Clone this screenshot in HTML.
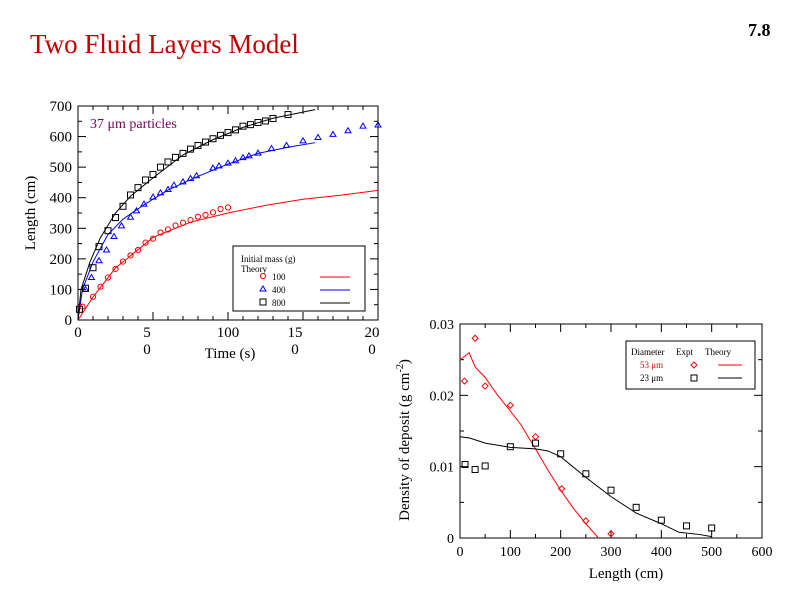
<!DOCTYPE html>
<html><head><meta charset="utf-8"><style>
body{margin:0;background:#fff;width:800px;height:600px;overflow:hidden}
svg{font-family:"Liberation Serif",serif}
</style></head><body>
<svg id="s" width="800" height="600">
<text x="30" y="53" font-size="27" fill="#c00000">Two Fluid Layers Model</text>
<text x="748" y="36" font-size="18" font-weight="bold">7.8</text>
<g id="c1"></g>
<g id="c2"></g>
</svg>
<script>
// Chart 1 data
const redT=[3,10,15,20,25,30,35,40,45,50,55,60,65,70,75,80,85,90,95,100];
const redL=[44,76,109,139,167,191,211,229,253,266,286,296,309,318,327,338,344,352,363,368];
const redThT=[0,10,25,50,75,100,125,150,175,200];
const redThL=[0,75,170,270,320,350,375,395,408,424];
const blueT=[5,9,14,19,24,29,35,39,44,50,55,60,64,70,75,79,90,94,100,105,110,114,120,129,139,150,160,170,180,190,200];
const blueL=[100,139,194,229,273,308,336,357,379,402,416,427,441,452,463,472,497,504,513,521,531,537,546,561,571,586,597,607,619,634,638];
const blueThT=[0,3,10,20,30,45,60,80,100,120,140,158];
const blueThL=[0,100,190,280,330,380,425,470,510,545,565,580];
const blackT=[1,5,10,14,20,25,30,35,40,45,50,55,60,65,70,75,80,85,90,95,100,105,110,115,120,125,130,140];
const blackL=[35,104,171,240,292,335,372,409,433,458,476,500,517,532,545,559,571,582,593,604,613,622,634,639,646,651,659,672];
const blackThT=[0,2,8,15,25,35,50,70,90,110,130,158];
const blackThL=[0,100,190,270,350,405,465,540,590,630,660,688];
const yTicks1=[0,100,200,300,400,500,600,700];
// Chart 2 data
const rX=[9,30,50,100,150,202,250,300];
const rD=[0.022,0.028,0.0213,0.0186,0.0142,0.0069,0.0024,0.0006];
const rThX=[0,10,18,30,50,75,100,120,150,175,200,225,250,275];
const rThD=[0.025,0.0255,0.026,0.024,0.0225,0.020,0.0178,0.016,0.0125,0.0095,0.0067,0.0042,0.002,0];
const kX=[10,30,50,100,150,200,250,300,350,400,450,500];
const kD=[0.0103,0.0096,0.0101,0.0128,0.0133,0.0118,0.009,0.0067,0.0043,0.0025,0.0017,0.0014];
const kThX=[0,20,50,100,150,175,200,250,300,350,400,435,475,500];
const kThD=[0.0142,0.014,0.0133,0.0127,0.0125,0.0122,0.0114,0.0085,0.0058,0.0035,0.002,0.0008,0.0005,0.0002];
const xTicks2=[0,100,200,300,400,500,600];
const yTicks2=[0,0.01,0.02,0.03];
const yLab2=["0","0.01","0.02","0.03"];

const NS="http://www.w3.org/2000/svg";
function mk(p,t,a){const e=document.createElementNS(NS,t);for(const k in a)e.setAttribute(k,a[k]);p.appendChild(e);return e;}
function marker(g,shape,cx,cy,col){
  if(shape==='circle')return mk(g,'circle',{cx,cy,r:2.6,fill:'none',stroke:col,'stroke-width':1});
  if(shape==='tri')return mk(g,'polygon',{points:`${cx},${cy-3} ${cx-3},${cy+2} ${cx+3},${cy+2}`,fill:'none',stroke:col,'stroke-width':1});
  if(shape==='sq')return mk(g,'rect',{x:cx-3,y:cy-3,width:6,height:6,fill:'none',stroke:col,'stroke-width':1});
  if(shape==='dia')return mk(g,'polygon',{points:`${cx},${cy-3} ${cx+3},${cy} ${cx},${cy+3} ${cx-3},${cy}`,fill:'none',stroke:col,'stroke-width':1});
}
// Chart 1
const c1=document.getElementById('c1');
const L1=78,R1=378,T1=106,B1=320;
const x1=t=>L1+t/200*(R1-L1), y1=v=>B1-v/700*(B1-T1);
const f1=mk(c1,'rect',{x:L1,y:T1,width:R1-L1,height:B1-T1,fill:'none',stroke:'#000'});


for(let t=0;t<=200;t+=10){const mj=t%50===0;const h=mj?8:4;
  mk(c1,'line',{x1:x1(t),x2:x1(t),y1:B1,y2:B1-h,stroke:'#000'});mk(c1,'line',{x1:x1(t),x2:x1(t),y1:T1,y2:T1+h,stroke:'#000'});}
for(let v=0;v<=700;v+=50){const mj=v%100===0;const h=mj?8:4;
  mk(c1,'line',{x1:L1,x2:L1+h,y1:y1(v),y2:y1(v),stroke:'#000'});mk(c1,'line',{x1:R1,x2:R1-h,y1:y1(v),y2:y1(v),stroke:'#000'});}
yTicks1.forEach(v=>{const e=mk(c1,'text',{x:L1-6,y:y1(v)+5,'font-size':15,'text-anchor':'end'});e.textContent=v;
  
  });
[[78,'0',''],[147,'5','0'],[228,'100',''],[295,'15','0'],[372,'20','0']].forEach(([px,a,b])=>{
  const e=mk(c1,'text',{x:px,y:337,'font-size':15,'text-anchor':'middle'});e.textContent=a;
  
  
  if(b){const f=mk(c1,'text',{x:px,y:354,'font-size':15,'text-anchor':'middle'});f.textContent=b;
  
  }});
let tt=mk(c1,'text',{x:230,y:358,'font-size':15,'text-anchor':'middle'});tt.textContent='Time (s)';


tt=mk(c1,'text',{x:0,y:0,'font-size':15,'text-anchor':'middle',transform:'translate(35,213) rotate(-90)'});tt.textContent='Length (cm)';


tt=mk(c1,'text',{x:90,y:128,'font-size':14,fill:'#800060'});tt.textContent='37 μm particles';


function line(g,X,Y,fx,fy,col,name){const p=mk(g,'polyline',{points:X.map((x,i)=>fx(x)+','+fy(Y[i])).join(' '),fill:'none',stroke:col,'stroke-width':1});
  
  }
function pts(g,X,Y,fx,fy,shape,col,name){X.forEach((x,i)=>{const m=marker(g,shape,fx(x),fy(Y[i]),col);
  
  });}
line(c1,redThT,redThL,x1,y1,'#f00','theory-line-100g');
line(c1,blueThT,blueThL,x1,y1,'#00f','theory-line-400g');
line(c1,blackThT,blackThL,x1,y1,'#000','theory-line-800g');
pts(c1,redT,redL,x1,y1,'circle','#f00','expt-point-100g');
pts(c1,blueT,blueL,x1,y1,'tri','#00f','expt-point-400g');
pts(c1,blackT,blackL,x1,y1,'sq','#000','expt-point-800g');
// legend 1
const lg=mk(c1,'g',{});


mk(lg,'rect',{x:233,y:246,width:132,height:65,fill:'#fff',stroke:'#000'});
[['Initial mass (g)',241,262],['Theory',241,272]].forEach(([s,x,y])=>{const e=mk(lg,'text',{x,y,'font-size':9});e.textContent=s;});
[['100','circle','#f00',279],['400','tri','#00f',292],['800','sq','#000',305]].forEach(([s,sh,c,y])=>{
  marker(lg,sh,263,y-3,c);const e=mk(lg,'text',{x:272,y:y+1,'font-size':9});e.textContent=s;
  
  
  mk(lg,'line',{x1:320,x2:350,y1:y-2,y2:y-2,stroke:c});});
// Chart 2
const c2=document.getElementById('c2');
const L2=460,R2=762,T2=324,B2=538;
const x2=v=>L2+v/600*(R2-L2), y2=v=>B2-v/0.03*(B2-T2);
const f2=mk(c2,'rect',{x:L2,y:T2,width:R2-L2,height:B2-T2,fill:'none',stroke:'#000'});


for(let v=0;v<=600;v+=50){const h=v%100===0?8:4;
  mk(c2,'line',{x1:x2(v),x2:x2(v),y1:B2,y2:B2-h,stroke:'#000'});mk(c2,'line',{x1:x2(v),x2:x2(v),y1:T2,y2:T2+h,stroke:'#000'});}
for(let i=0;i<=6;i++){const v=i*0.005;const h=i%2===0?8:4;
  mk(c2,'line',{x1:L2,x2:L2+h,y1:y2(v),y2:y2(v),stroke:'#000'});mk(c2,'line',{x1:R2,x2:R2-h,y1:y2(v),y2:y2(v),stroke:'#000'});}
xTicks2.forEach(v=>{const e=mk(c2,'text',{x:x2(v),y:556,'font-size':14,'text-anchor':'middle'});e.textContent=v;
  
  });
yTicks2.forEach((v,i)=>{const e=mk(c2,'text',{x:L2-6,y:y2(v)+5,'font-size':14,'text-anchor':'end'});e.textContent=yLab2[i];
  
  });
tt=mk(c2,'text',{x:626,y:578,'font-size':15,'text-anchor':'middle'});tt.textContent='Length (cm)';


tt=mk(c2,'text',{x:0,y:0,'font-size':15,'text-anchor':'middle',transform:'translate(409,440) rotate(-90)'});
tt.innerHTML='Density of deposit (g cm<tspan dy="-6" font-size="10">-2</tspan><tspan dy="6">)</tspan>';


line(c2,rThX,rThD,x2,y2,'#f00','theory-line-53um');
line(c2,kThX,kThD,x2,y2,'#000','theory-line-23um');
pts(c2,rX,rD,x2,y2,'dia','#f00','expt-point-53um');
pts(c2,kX,kD,x2,y2,'sq','#000','expt-point-23um');
const lg2=mk(c2,'g',{});


mk(lg2,'rect',{x:626,y:341,width:129,height:48,fill:'#fff',stroke:'#000'});
[['Diameter',631],['Expt',676],['Theory',705]].forEach(([s,x])=>{const e=mk(lg2,'text',{x,y:355,'font-size':9});e.textContent=s;});
[['53 μm','#f00','dia',368],['23 μm','#000','sq',381]].forEach(([s,c,sh,y])=>{
  const e=mk(lg2,'text',{x:640,y:y,'font-size':9,fill:c});e.textContent=s;
  
  
  marker(lg2,sh,694,y-3,c);mk(lg2,'line',{x1:718,x2:742,y1:y-3,y2:y-3,stroke:c});});
</script>
</body></html>
